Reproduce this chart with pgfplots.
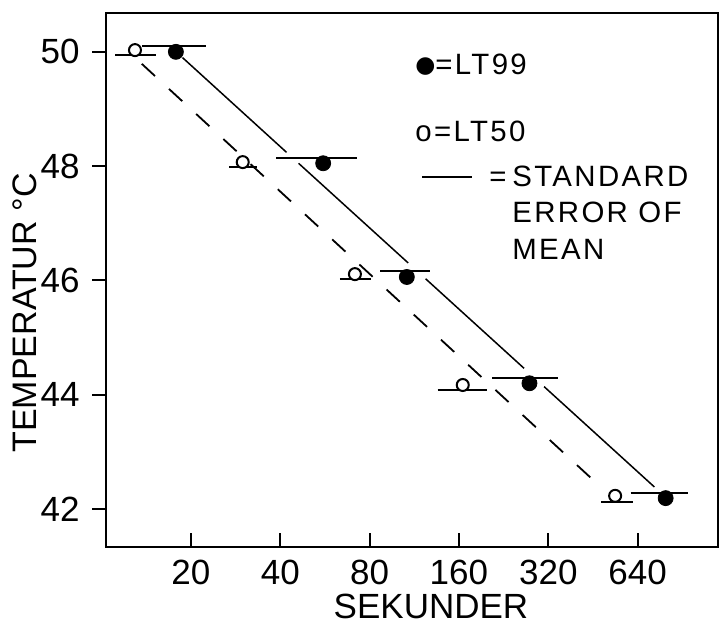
\documentclass[border=0pt]{standalone}
\usepackage{pgfplots}
\pgfplotsset{compat=1.18}
\usepackage{fontspec}
\setmainfont{Liberation Sans}
\newfontfamily\legfont{Liberation Sans}[LetterSpace=8]
\newfontfamily\symfont{DejaVu Sans}
\begin{document}
\begin{tikzpicture}[x=1pt,y=1pt]
\useasboundingbox (0,0) rectangle (359.5,312);
\begin{axis}[
  at={(53pt,38.5pt)}, anchor=south west,
  scale only axis, width=306pt, height=267pt,
  xmode=log, log basis x=2,
  xmin=10.35, xmax=1194, ymin=41.335, ymax=50.68,
  axis line style={line width=1pt},
  xtick={20,40,80,160,320,640}, xticklabels={20,40,80,160,320,640},
  ytick={42,44,46,48,50}, yticklabels={42,44,46,48,50},
  xminorticks=false, yminorticks=false,
  xtick pos=bottom, ytick pos=left,
  tick align=inside, major tick length=7pt,
  tick style={black, line width=1pt},
  ytick style={xshift=-7pt},
  xticklabel style={anchor=base, yshift=-19pt, inner sep=0pt, font=\fontsize{17.5}{20}\selectfont},
  yticklabel style={anchor=east, xshift=-13pt, inner sep=0pt, font=\fontsize{17.5}{20}\selectfont},
  xlabel={SEKUNDER},
  xlabel style={at={(rel axis cs:0.531,-0.1330)}, anchor=base, inner sep=0pt, font=\fontsize{17.5}{20}\selectfont},
  ylabel={TEMPERATUR °C},
  ylabel style={at={(rel axis cs:-0.1132,0.4382)}, anchor=base, inner sep=0pt, font=\fontsize{17}{20}\selectfont},
]
% regression lines
\addplot[black, line width=0.9pt, dash pattern=on 9pt off 9.5pt] coordinates {(13.66,49.79) (451.9,42.513)};
\addplot[black, line width=0.75pt] coordinates {(18.74,49.899) (42.0,48.241)};
\addplot[black, line width=0.75pt] coordinates {(46.12,48.049) (107.9,46.306)};
\addplot[black, line width=0.75pt] coordinates {(123.5,46.029) (265.1,44.462)};
\addplot[black, line width=0.75pt] coordinates {(309.8,44.141) (729,42.385)};
% standard error bars LT50
\addplot[black, line width=1pt] coordinates {(11.1,49.95) (15.2,49.95)};
\addplot[black, line width=1pt] coordinates {(26.9,47.99) (33.3,47.99)};
\addplot[black, line width=1pt] coordinates {(63.5,46.02) (80.7,46.02)};
\addplot[black, line width=1pt] coordinates {(135.6,44.08) (199.3,44.08)};
\addplot[black, line width=1pt] coordinates {(482,42.13) (617,42.13)};
% standard error bars LT99
\addplot[black, line width=1pt] coordinates {(13.7,50.10) (22.5,50.10)};
\addplot[black, line width=1pt] coordinates {(38.8,48.15) (72.7,48.15)};
\addplot[black, line width=1pt] coordinates {(86.8,46.16) (128.1,46.16)};
\addplot[black, line width=1pt] coordinates {(207.2,44.30) (343.9,44.30)};
\addplot[black, line width=1pt] coordinates {(605.6,42.28) (947.4,42.28)};
% LT50 (open)
\addplot[only marks, mark=*, mark size=3pt, mark options={fill=white, draw=black, line width=1pt}]
  coordinates {(12.96,50.03) (29.9,48.07) (71.4,46.11) (164.8,44.17) (537.5,42.23)};
% LT99 (filled)
\addplot[only marks, mark=*, mark size=3.75pt, mark options={fill=black, draw=black}]
  coordinates {(17.8,50.0) (55.8,48.05) (106.8,46.06) (276.5,44.20) (795.6,42.19)};
\end{axis}
% legend text
\node[anchor=base west, inner sep=0pt, font=\legfont\fontsize{14.7}{17}\selectfont] at (207.5,274.5) {\raisebox{1pt}{\symfont\fontsize{11.5}{12}\selectfont ●}=LT99};
\node[anchor=base west, inner sep=0pt, font=\legfont\fontsize{14.7}{17}\selectfont] at (207.5,241) {o=LT50};
\node[anchor=base west, inner sep=0pt] at (211,218.5) {\rule[4.5pt]{25pt}{0.8pt}};
\node[anchor=base west, inner sep=0pt, font=\legfont\fontsize{14.7}{17}\selectfont] at (244.5,218.5) {=};
\node[anchor=base west, inner sep=0pt, font=\legfont\fontsize{14.7}{17}\selectfont] at (256,218.5) {STANDARD};
\node[anchor=base west, inner sep=0pt, font=\legfont\fontsize{14.7}{17}\selectfont] at (256,200.5) {ERROR OF};
\node[anchor=base west, inner sep=0pt, font=\legfont\fontsize{14.7}{17}\selectfont] at (256,182) {MEAN};
\end{tikzpicture}
\end{document}
